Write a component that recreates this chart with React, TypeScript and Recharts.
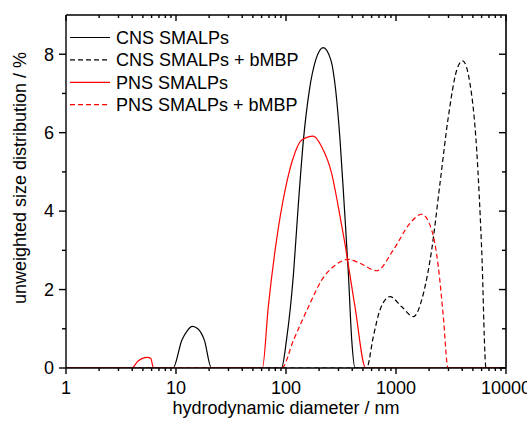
import React from "react";
import { LineChart, Line, XAxis, YAxis } from "recharts";

// hydrodynamic diameter (nm) and unweighted size distribution (%) per sample
const cnsDiam = [1, 9.4, 11.3, 12.5, 14.1, 15.8, 18.1, 21, 91, 101, 117, 129, 144, 163, 186, 218, 256, 283, 310, 339, 369, 396, 424, 10000];
const cnsVal = [0, 0, 0.71, 0.93, 1.06, 1.0, 0.71, 0, 0, 0.71, 2.41, 4.11, 5.81, 7.08, 7.85, 8.17, 7.85, 7.08, 5.81, 4.11, 2.41, 0.71, 0, 0];

const cnsMbpDiam = [1, 541, 622, 715, 882, 1127, 1438, 1775, 2110, 2512, 2990, 3562, 4038, 4706, 5417, 6012, 6580, 10000];
const cnsMbpVal = [0, 0, 0.8, 1.48, 1.82, 1.56, 1.31, 1.9, 3.01, 4.71, 6.4, 7.59, 7.83, 7.25, 5.55, 3.01, 0, 0];

const pnsDiam = [1, 3.95, 4.5, 4.9, 5.5, 5.9, 6.25, 61, 69, 82, 98, 117, 139, 177, 211, 260, 299, 339, 424, 530, 10000];
const pnsVal = [0, 0, 0.17, 0.24, 0.27, 0.24, 0, 0, 1.56, 3.26, 4.53, 5.38, 5.81, 5.91, 5.64, 4.96, 4.11, 3.26, 1.56, 0, 0];

const pnsMbpDiam = [1, 91.4, 117, 160, 211, 280, 369, 471, 667, 946, 1340, 1713, 2110, 2425, 2693, 2971, 10000];
const pnsMbpVal = [0, 0, 0.71, 1.56, 2.24, 2.62, 2.77, 2.67, 2.48, 3.01, 3.69, 3.92, 3.52, 2.58, 1.31, 0, 0];

const xMajor = [1, 10, 100, 1000, 10000];
const xTicks = [
    1, 2, 3, 4, 5, 6, 7, 8, 9,
    10, 20, 30, 40, 50, 60, 70, 80, 90,
    100, 200, 300, 400, 500, 600, 700, 800, 900,
    1000, 2000, 3000, 4000, 5000, 6000, 7000, 8000, 9000,
    10000,
];
const yMajor = [0, 2, 4, 6, 8];
const yTicks = [0, 1, 2, 3, 4, 5, 6, 7, 8];

const X_MIN = 1;
const X_MAX = 10000;
const Y_MAX = 9;

const FONT = "'Liberation Sans', Arial, sans-serif";
const INK = "#000";
const AXIS = { stroke: INK, strokeWidth: 1.4 };

// plot box (chart margins + axis sizes below)
const PLOT = { left: 66, top: 15, width: 440, height: 353 };
const frameX = (v: number) => PLOT.left + (PLOT.width * Math.log10(v / X_MIN)) / Math.log10(X_MAX / X_MIN);
const frameY = (v: number) => PLOT.top + PLOT.height * (1 - v / Y_MAX);

const toPoints = (d: number[], v: number[]) => d.map((x, i) => ({ d: x, v: v[i] }));

const series = [
    { name: "CNS SMALPs", data: toPoints(cnsDiam, cnsVal), color: "#000", dash: undefined },
    { name: "CNS SMALPs + bMBP", data: toPoints(cnsMbpDiam, cnsMbpVal), color: "#000", dash: "5 3" },
    { name: "PNS SMALPs", data: toPoints(pnsDiam, pnsVal), color: "#ff0000", dash: undefined },
    { name: "PNS SMALPs + bMBP", data: toPoints(pnsMbpDiam, pnsMbpVal), color: "#ff0000", dash: "5 3" },
];

// the axis draws the short (minor) tick itself; majors get an extra 3px and a label
const BottomTick = (props: any) => {
    const x = Number(props.x);
    const y = Number(props.y);
    const v = Number(props.payload.value);
    if (!xMajor.includes(v)) return <g />;
    return (
        <g>
            <line x1={x} x2={x} y1={y} y2={y + 3} stroke={INK} strokeWidth={1.4} />
            <text x={x} y={y + 23} textAnchor="middle" fontSize={18} fontFamily={FONT} fill={INK}>
                {v}
            </text>
        </g>
    );
};

const LeftTick = (props: any) => {
    const x = Number(props.x);
    const y = Number(props.y);
    const v = Number(props.payload.value);
    if (!yMajor.includes(v)) return <g />;
    return (
        <g>
            <line x1={x - 3} x2={x} y1={y} y2={y} stroke={INK} strokeWidth={1.4} />
            <text x={x - 8} y={y} dy="0.35em" textAnchor="end" fontSize={18} fontFamily={FONT} fill={INK}>
                {v}
            </text>
        </g>
    );
};

export default function App() {
    const right = PLOT.left + PLOT.width;
    const bottom = PLOT.top + PLOT.height;
    return (
        <div style={{ position: "absolute", left: 0, top: 0, width: 527, height: 422, background: "#fff" }}>
            <LineChart
                width={527}
                height={422}
                data={series[0].data}
                margin={{ top: PLOT.top, right: 527 - right, bottom: 0, left: 0 }}
            >
                <XAxis
                    dataKey="d"
                    type="number"
                    scale="log"
                    domain={[X_MIN, X_MAX]}
                    allowDataOverflow
                    ticks={xTicks}
                    interval={0}
                    height={422 - bottom}
                    tickSize={3}
                    tickMargin={0}
                    tickLine={AXIS}
                    tick={<BottomTick />}
                    axisLine={AXIS}
                    label={{
                        content: ({ viewBox }: any) => (
                            <text
                                x={viewBox.x + viewBox.width / 2}
                                y={viewBox.y + 46}
                                textAnchor="middle"
                                fontSize={18}
                                fontFamily={FONT}
                                fill={INK}
                            >
                                hydrodynamic diameter / nm
                            </text>
                        ),
                    }}
                />
                <YAxis
                    type="number"
                    domain={[0, Y_MAX]}
                    allowDataOverflow
                    ticks={yTicks}
                    interval={0}
                    width={PLOT.left}
                    tickSize={4}
                    tickMargin={0}
                    tickLine={AXIS}
                    tick={<LeftTick />}
                    axisLine={AXIS}
                    label={{
                        content: () => (
                            <text
                                x={26}
                                y={178}
                                transform="rotate(-90, 26, 178)"
                                textAnchor="middle"
                                fontSize={18}
                                fontFamily={FONT}
                                fill={INK}
                            >
                                unweighted size distribution / %
                            </text>
                        ),
                    }}
                />
                {series.map((s) => (
                    <Line
                        key={s.name}
                        data={s.data}
                        dataKey="v"
                        name={s.name}
                        type="monotone"
                        stroke={s.color}
                        strokeWidth={1.2}
                        strokeDasharray={s.dash}
                        dot={false}
                        activeDot={false}
                        isAnimationActive={false}
                    />
                ))}
            </LineChart>
            <svg width={527} height={422} style={{ position: "absolute", left: 0, top: 0, pointerEvents: "none" }}>
                {/* mirrored top / right frame with inward ticks */}
                <path
                    d={`M${PLOT.left},${PLOT.top} L${right},${PLOT.top} L${right},${bottom}`}
                    fill="none"
                    stroke={INK}
                    strokeWidth={1.6}
                />
                {xTicks.map((t) => (
                    <line
                        key={`tt${t}`}
                        x1={frameX(t)}
                        x2={frameX(t)}
                        y1={PLOT.top}
                        y2={PLOT.top + (xMajor.includes(t) ? 6 : 3)}
                        stroke={INK}
                        strokeWidth={1.4}
                    />
                ))}
                {yTicks.map((t) => (
                    <line
                        key={`rt${t}`}
                        x1={right - (yMajor.includes(t) ? 7 : 4)}
                        x2={right}
                        y1={frameY(t)}
                        y2={frameY(t)}
                        stroke={INK}
                        strokeWidth={1.4}
                    />
                ))}

                {series.map((s, i) => {
                    const y = 37.5 + i * 22.4;
                    return (
                        <g key={s.name}>
                            <line x1={70} x2={110} y1={y} y2={y} stroke={s.color} strokeWidth={1.2} strokeDasharray={s.dash} />
                            <text x={116} y={y + 6.4} fontSize={18} fontFamily={FONT} fill={INK}>
                                {s.name}
                            </text>
                        </g>
                    );
                })}
            </svg>
        </div>
    );
}
